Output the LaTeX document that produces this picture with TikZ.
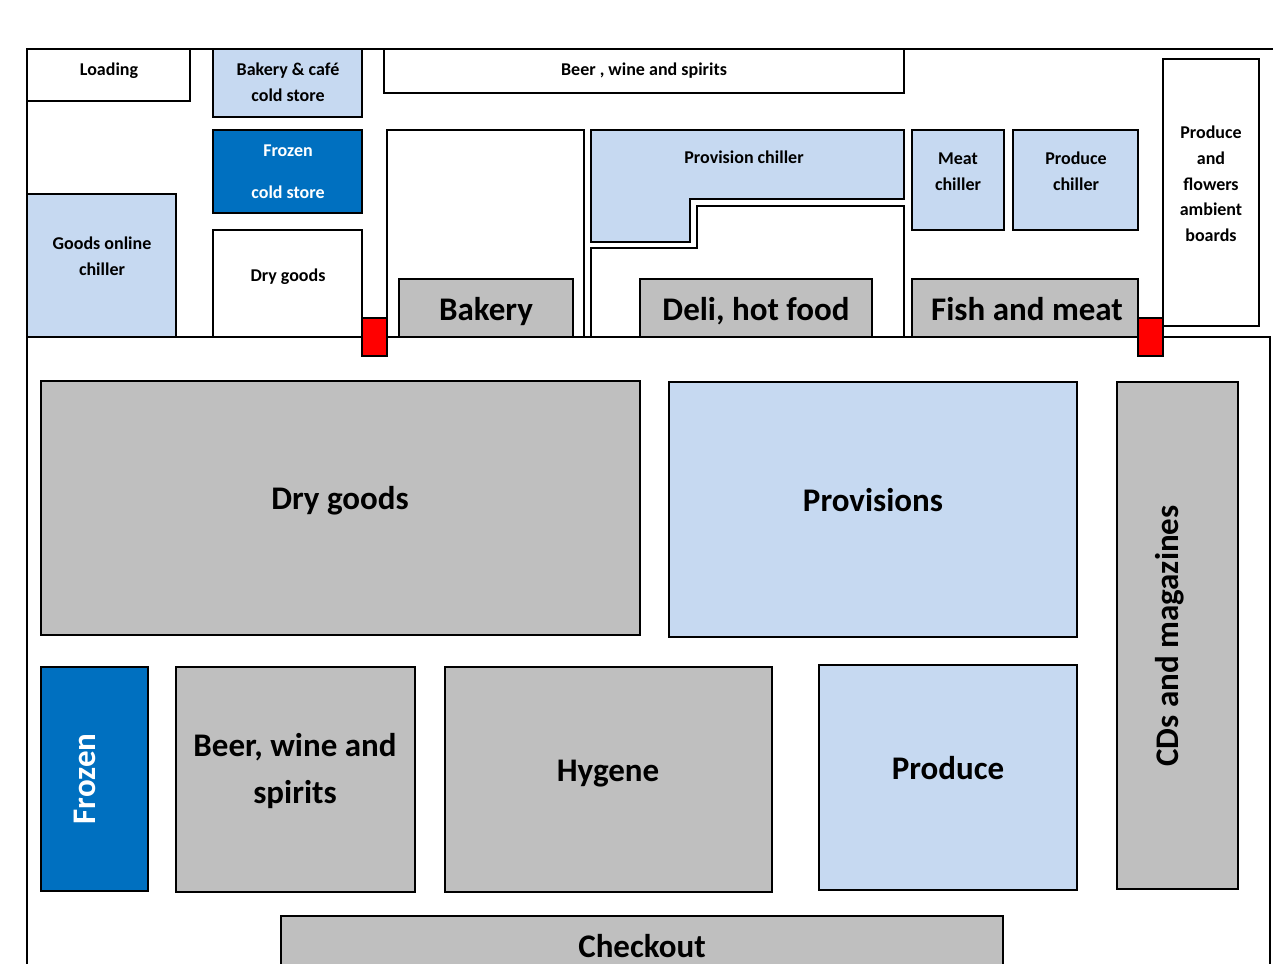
\documentclass[tikz,border=0pt]{standalone}
\usepackage{fontspec}
\setmainfont{Carlito}
\definecolor{lblue}{HTML}{C6D9F1}
\definecolor{dblue}{HTML}{0070C0}
\definecolor{shelf}{HTML}{BFBFBF}
\definecolor{door}{HTML}{FF0000}
\begin{document}
\begin{tikzpicture}[x=1pt,y=-1pt,line width=2.6pt,line join=miter,
  room/.style={draw=black,fill=white},
  chill/.style={draw=black,fill=lblue},
  froz/.style={draw=black,fill=dblue},
  gray/.style={draw=black,fill=shelf},
  doorbox/.style={draw=black,fill=door,line width=2pt},
  sm/.style={font=\bfseries\fontsize{18}{26}\selectfont,align=center,inner sep=0pt},
  bg/.style={font=\bfseries\fontsize{33}{47}\selectfont,align=center,inner sep=0pt},
  one/.style={anchor=base}]
\useasboundingbox (0,0) rectangle (1273,963);
\clip (0,0) rectangle (1273,963);
% outer walls
\draw (27,980) -- (27,49) -- (1290,49);
\draw (27,337) -- (1270,337) -- (1270,980);
% back rooms
\draw[room]  (27,49) rectangle (190,101);
\draw[chill] (213,49) rectangle (362,117);
\draw[room]  (384,49) rectangle (904,93);
\draw[room]  (1163,59) rectangle (1259,326);
\draw[froz]  (213,130) rectangle (362,213);
\draw[chill] (27,194) rectangle (176,337);
\draw[room]  (213,230) rectangle (362,337);
\draw[room]  (387,130) rectangle (584,337);
\draw[gray]  (399,279) rectangle (573,337);
\draw[chill] (591,130) -- (904,130) -- (904,199) -- (690,199) -- (690,242) -- (591,242) -- cycle;
\draw[room]  (591,337) -- (591,248) -- (697,248) -- (697,206) -- (904,206) -- (904,337) -- cycle;
\draw[gray]  (640,279) rectangle (872,337);
\draw[chill] (912,130) rectangle (1004,230);
\draw[chill] (1013,130) rectangle (1138,230);
\draw[gray]  (912,279) rectangle (1138,337);
\draw[doorbox] (362,318) rectangle (387,356);
\draw[doorbox] (1138,318) rectangle (1163,356);
% sales floor
\draw[gray]  (41,381) rectangle (640,635);
\draw[chill] (669,382) rectangle (1077,637);
\draw[gray]  (1117,382) rectangle (1238,889);
\draw[froz]  (41,667) rectangle (148,891);
\draw[gray]  (176,667) rectangle (415,892);
\draw[gray]  (445,667) rectangle (772,892);
\draw[chill] (819,665) rectangle (1077,890);
\draw[gray]  (281,916) rectangle (1003,990);
% labels
\node[sm,one] (tLoading) at (109,76) {Loading};
\node[sm] (tBakCS) at (288,82) {Bakery \& café\\cold store};
\node[sm,one] (tBeerTop) at (644,76) {Beer , wine and spirits};
\node[sm,text=white,font=\bfseries\fontsize{18}{42}\selectfont] (tFrozCS) at (288,172) {Frozen\\cold store};
\node[sm] (tGoods) at (102,256) {Goods online\\chiller};
\node[sm,one] (tDrySm) at (288,281) {Dry goods};
\node[sm,one] (tProvCh) at (744,163) {Provision chiller};
\node[sm] (tMeatCh) at (958,172) {Meat\\chiller};
\node[sm] (tProdCh) at (1076,171) {Produce\\chiller};
\node[sm,font=\bfseries\fontsize{18}{25.7}\selectfont] (tPF) at (1211,184) {Produce\\and\\flowers\\ambient\\boards};
\node[bg,one] (tBakery) at (486,320) {Bakery};
\node[bg,one] (tDeli) at (756,320) {Deli, hot food};
\node[bg,one] (tFish) at (1027,320) {Fish and meat};
\node[bg,one] (tDry) at (340,509) {Dry goods};
\node[bg,one] (tProv) at (873,511) {Provisions};
\node[bg,one,rotate=90] (tCD) at (1178,636) {CDs and magazines};
\node[bg,one,rotate=90,text=white] (tFrozen) at (95,779) {Frozen};
\node[bg] (tBeer) at (295,771) {Beer, wine and\\spirits};
\node[bg,one] (tHyg) at (608,781) {Hygene};
\node[bg,one] (tProd) at (948,779) {Produce};
\node[bg,one] (tCheck) at (642,957) {Checkout};
\end{tikzpicture}
\end{document}
